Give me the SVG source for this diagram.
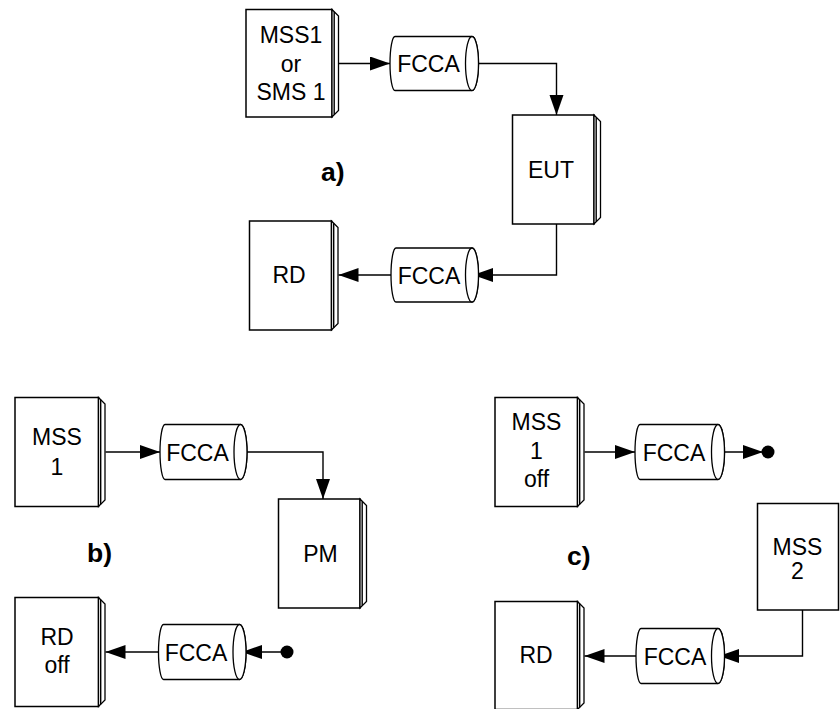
<svg xmlns="http://www.w3.org/2000/svg" width="840" height="709" viewBox="0 0 840 709">
<style>
.box{fill:#fff;stroke:#000;stroke-width:1.5}
.side{fill:#fff;stroke:#000;stroke-width:1.3}
.cyl{fill:#fff;stroke:#000;stroke-width:1.3}
.ln{fill:none;stroke:#000;stroke-width:1.4}
.t{font-family:"Liberation Sans",Arial,sans-serif;font-size:23px;fill:#000;text-anchor:middle}
.lbl{font-family:"Liberation Sans",Arial,sans-serif;font-size:26.5px;font-weight:bold;fill:#000}
</style>
<defs>
<marker id="arr" markerUnits="userSpaceOnUse" markerWidth="21" markerHeight="15" refX="20" refY="7" orient="auto">
<path d="M0,0 L20,7 L0,14 Z" fill="#000"/>
</marker>
</defs>
<rect width="840" height="709" fill="#fff"/>

<g id="connectors">
<line class="ln" x1="338.5" y1="63.5" x2="390" y2="63.5" marker-end="url(#arr)"/>
<polyline class="ln" points="472,63.5 556.5,63.5 556.5,115" marker-end="url(#arr)"/>
<polyline class="ln" points="556.5,224 556.5,275 473,275" marker-end="url(#arr)"/>
<line class="ln" x1="391" y1="275" x2="338.5" y2="275" marker-end="url(#arr)"/>

<line class="ln" x1="105.5" y1="452" x2="160" y2="452" marker-end="url(#arr)"/>
<polyline class="ln" points="240.5,452 323,452 323,499" marker-end="url(#arr)"/>
<line class="ln" x1="287" y1="652" x2="242" y2="652" marker-end="url(#arr)"/>
<circle cx="287" cy="652" r="6.5" fill="#000"/>
<line class="ln" x1="158.5" y1="652" x2="105.5" y2="652" marker-end="url(#arr)"/>

<line class="ln" x1="584.5" y1="452" x2="635" y2="452" marker-end="url(#arr)"/>
<line class="ln" x1="718" y1="452" x2="763" y2="452" marker-end="url(#arr)"/>
<circle cx="768" cy="452" r="6.5" fill="#000"/>
<polyline class="ln" points="802.5,610 802.5,656 719,656" marker-end="url(#arr)"/>
<line class="ln" x1="636" y1="656" x2="584.5" y2="656" marker-end="url(#arr)"/>
</g>

<!-- a) -->
<g id="mss1a">
<rect class="box" x="246" y="9.5" width="86" height="107.5"/>
<polygon class="side" points="332,9.5 338.5,16 338.5,110.5 332,117"/>
<line class="ln" x1="334.2" y1="11.7" x2="334.2" y2="114.8" stroke-width="1"/>
<text class="t" x="291" y="43">MSS1</text>
<text class="t" x="291" y="71.5">or</text>
<text class="t" x="291" y="100">SMS 1</text>
</g>
<g id="fcca-a1">
<path class="cyl" d="M395,36.5 H472 A6.5,27 0 0 1 472,90.5 H395 A5,27 0 0 1 395,36.5 Z"/>
<ellipse class="cyl" cx="472" cy="63.5" rx="6.5" ry="27"/>
<text class="t" x="428.5" y="72">FCCA</text>
</g>
<g id="eut">
<rect class="box" x="512.5" y="115" width="81.5" height="109"/>
<polygon class="side" points="594,115 600.5,121.5 600.5,217.5 594,224"/>
<line class="ln" x1="596.2" y1="117.2" x2="596.2" y2="221.8" stroke-width="1"/>
<text class="t" x="551" y="177.5">EUT</text>
</g>
<text id="label-a" class="lbl" x="321" y="181">a)</text>
<g id="fcca-a2">
<path class="cyl" d="M396,248 H472 A6.5,27 0 0 1 472,302 H396 A5,27 0 0 1 396,248 Z"/>
<ellipse class="cyl" cx="472" cy="275" rx="6.5" ry="27"/>
<text class="t" x="429" y="283.5">FCCA</text>
</g>
<g id="rd-a">
<rect class="box" x="249.5" y="221" width="82" height="109"/>
<polygon class="side" points="331.5,221 338,227.5 338,323.5 331.5,330"/>
<line class="ln" x1="333.7" y1="223.2" x2="333.7" y2="327.8" stroke-width="1"/>
<text class="t" x="289" y="282.5">RD</text>
</g>

<!-- b) -->
<g id="mss1b">
<rect class="box" x="15" y="397.5" width="83.5" height="109"/>
<polygon class="side" points="98.5,397.5 105,404 105,500 98.5,506.5"/>
<line class="ln" x1="100.7" y1="399.7" x2="100.7" y2="504.3" stroke-width="1"/>
<text class="t" x="57" y="445">MSS</text>
<text class="t" x="57" y="475">1</text>
</g>
<g id="fcca-b1">
<path class="cyl" d="M165,424.5 H240.5 A6.5,27.5 0 0 1 240.5,479.5 H165 A5,27.5 0 0 1 165,424.5 Z"/>
<ellipse class="cyl" cx="240.5" cy="452" rx="6.5" ry="27.5"/>
<text class="t" x="197.5" y="460.5">FCCA</text>
</g>
<g id="pm">
<rect class="box" x="278.5" y="499" width="81.5" height="109"/>
<polygon class="side" points="360,499 366.5,505.5 366.5,601.5 360,608"/>
<line class="ln" x1="362.2" y1="501.2" x2="362.2" y2="605.8" stroke-width="1"/>
<text class="t" x="320.5" y="561.5">PM</text>
</g>
<text id="label-b" class="lbl" x="87" y="562">b)</text>
<g id="rd-off">
<rect class="box" x="15" y="597.5" width="83.5" height="109"/>
<polygon class="side" points="98.5,597.5 105,604 105,700 98.5,706.5"/>
<line class="ln" x1="100.7" y1="599.7" x2="100.7" y2="704.3" stroke-width="1"/>
<text class="t" x="57" y="645">RD</text>
<text class="t" x="57" y="673">off</text>
</g>
<g id="fcca-b2">
<path class="cyl" d="M163.5,624.5 H239.5 A6.5,27.5 0 0 1 239.5,679.5 H163.5 A5,27.5 0 0 1 163.5,624.5 Z"/>
<ellipse class="cyl" cx="239.5" cy="652" rx="6.5" ry="27.5"/>
<text class="t" x="196" y="660.5">FCCA</text>
</g>

<!-- c) -->
<g id="mss1off">
<rect class="box" x="495" y="397.5" width="82.5" height="109"/>
<polygon class="side" points="577.5,397.5 584,404 584,500 577.5,506.5"/>
<line class="ln" x1="579.7" y1="399.7" x2="579.7" y2="504.3" stroke-width="1"/>
<text class="t" x="536.5" y="430">MSS</text>
<text class="t" x="536.5" y="458.5">1</text>
<text class="t" x="536.5" y="487">off</text>
</g>
<g id="fcca-c1">
<path class="cyl" d="M640,424.5 H718 A6.5,27.5 0 0 1 718,479.5 H640 A5,27.5 0 0 1 640,424.5 Z"/>
<ellipse class="cyl" cx="718" cy="452" rx="6.5" ry="27.5"/>
<text class="t" x="674" y="460.5">FCCA</text>
</g>
<text id="label-c" class="lbl" x="567" y="565">c)</text>
<g id="mss2">
<rect class="box" x="757.5" y="503.5" width="81" height="106.5"/>
<text class="t" x="797.5" y="555">MSS</text>
<text class="t" x="797.5" y="578.5">2</text>
</g>
<g id="fcca-c2">
<path class="cyl" d="M641,628.5 H718 A6.5,27.5 0 0 1 718,683.5 H641 A5,27.5 0 0 1 641,628.5 Z"/>
<ellipse class="cyl" cx="718" cy="656" rx="6.5" ry="27.5"/>
<text class="t" x="675" y="664.5">FCCA</text>
</g>
<g id="rd-c">
<rect class="box" x="495" y="601.5" width="82.5" height="108"/>
<polygon class="side" points="577.5,601.5 584,608 584,703 577.5,709.5"/>
<line class="ln" x1="579.7" y1="603.7" x2="579.7" y2="707.3" stroke-width="1"/>
<text class="t" x="536" y="663">RD</text>
</g>
</svg>
